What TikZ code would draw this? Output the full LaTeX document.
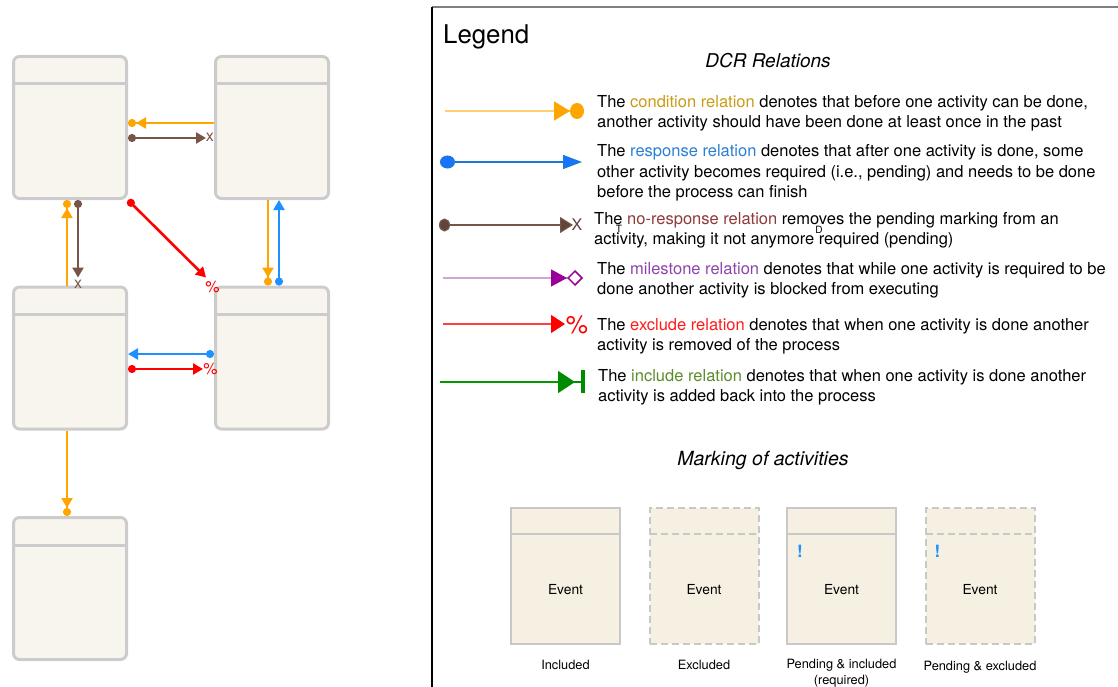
\documentclass[tikz,border=0pt]{standalone}
\usepackage{fontspec}
\setmainfont{TeX Gyre Heros}
\usetikzlibrary{arrows.meta,calc,positioning}

\definecolor{actfill}{HTML}{F7F5EE}
\definecolor{actgray}{HTML}{CCCCCC}
\definecolor{markfill}{HTML}{F6F0E3}
\definecolor{markgray}{HTML}{C8C8C8}
\definecolor{dcrorange}{HTML}{FFA500}
\definecolor{dcrbrown}{HTML}{795548}
\definecolor{dcrblue}{HTML}{1E90FF}
\definecolor{dcrred}{HTML}{FF0000}
\definecolor{condtext}{HTML}{CC9A16}
\definecolor{resptext}{HTML}{2A7FD4}
\definecolor{noresptext}{HTML}{8E3A3A}
\definecolor{miletext}{HTML}{8E44AD}
\definecolor{excltext}{HTML}{FF1A1A}
\definecolor{incltext}{HTML}{5B8C2A}

\tikzset{
  activity/.style={draw=actgray, fill=actfill, line width=3pt, rounded corners=6pt,
    minimum width=113pt, minimum height=142pt, inner sep=0pt},
  marking/.style={draw=markgray, fill=markfill, line width=2pt,
    minimum width=109pt, minimum height=136pt, inner sep=0pt},
  excluded/.style={dash pattern=on 7pt off 4pt},
  rel/.style={line width=2.6pt},
  cond/.style={rel, draw=dcrorange, -{Triangle[length=10pt,width=11pt] Circle[length=8pt]}},
  resp/.style={rel, draw=dcrblue, {Circle[length=8pt]}-{Triangle[length=10pt,width=11pt]}},
  noresp/.style={rel, draw=dcrbrown, {Circle[length=8pt]}-{Triangle[length=10pt,width=11pt]}},
  excl/.style={rel, draw=dcrred, {Circle[length=8pt]}-{Triangle[length=10pt,width=11pt]}},
  xlab/.style={text=dcrbrown, inner sep=0pt, font=\fontsize{16}{16}\selectfont},
  pctlab/.style={text=dcrred, inner sep=0pt, font=\fontsize{16}{16}\selectfont},
  lgtext/.style={anchor=base west, align=left, inner sep=0pt, font=\fontsize{16.5}{20}\selectfont},
  smalltext/.style={inner sep=0pt, font=\fontsize{12.8}{16}\selectfont},
}

\begin{document}
\begin{tikzpicture}[x=1pt, y=-1pt]

    \useasboundingbox (0,0) rectangle (1118,687);

    % --- 1. Activities ---
    \foreach \name/\cx/\cy in {A/70/127.5, B/272/127.5, C/70/358, D/272/358, E/70/588.5} {
        \node[activity] (\name) at (\cx,\cy) {};
        \draw[actgray, line width=3pt] ($(\name.north west)+(1.5,29)$) -- ($(\name.north east)+(-1.5,29)$);
    }

    % --- 2. Relations between activities ---
    % conditions
    \draw[cond] ($(B.west)+(0,-4.5)$) -- ($(A.east)+(0,-4.5)$);
    \draw[cond] ($(C.north)+(-3,0)$) -- ($(A.south)+(-3,0)$);
    \draw[cond] ($(B.south)+(-4,0)$) -- ($(D.north)+(-4,0)$);
    \draw[cond] ($(C.south)+(-3,0)$) -- ($(E.north)+(-3,0)$);
    % responses
    \draw[resp] ($(D.north)+(7,0)$) -- ($(B.south)+(7,0)$);
    \draw[resp] ($(D.west)+(0,-4)$) -- ($(C.east)+(0,-4)$);
    % no-responses
    \draw[noresp] ($(A.east)+(0,10.5)$) -- ($(B.west)+(-8,10.5)$)
        node[xlab, anchor=west, xshift=-1.5pt, yshift=1pt] {x};
    \draw[noresp] ($(A.south)+(8,0)$) -- ($(C.north)+(8,-8)$)
        node[xlab, anchor=north, yshift=-1pt] {x};
    % excludes
    \draw[excl] (A.south east) -- ($(D.north west)+(-8,-8)$)
        node[pctlab, anchor=north west, xshift=-2pt, yshift=-2pt] {\%};
    \draw[excl] ($(C.east)+(0,11)$) -- ($(D.west)+(-11,11)$)
        node[pctlab, anchor=west, xshift=-1pt] {\%};

    % --- 3. Legend frame ---
    \draw[gray, line width=1.8pt] (432,7) -- (1118,7);
    \draw[black, line width=1.2pt] (432,7) -- (432,687);

    \node[anchor=base west, inner sep=0pt, font=\fontsize{25.8}{26}\selectfont] (legend) at (443,44) {Legend};
    \node[anchor=base, inner sep=0pt, font=\fontsize{19}{19}\selectfont\itshape] (dcrtitle) at (768,68) {DCR Relations};

    % --- 4. Legend samples ---
    \draw[draw=dcrorange!55, line width=1.5pt,
          -{Triangle[length=16pt,width=19pt,fill=dcrorange,color=dcrorange] Circle[length=14pt,width=16pt,fill=dcrorange,color=dcrorange]}]
        (445,111) -- (584,111);
    \draw[draw=dcrblue!85!black, line width=1.2pt,
          {Circle[length=15pt,width=13pt,fill=dcrblue!80!blue]}-{Triangle[length=19pt,width=14pt,fill=dcrblue!80!blue]}]
        (440,162) -- (582,162);
    \draw[draw=dcrbrown, line width=1.2pt,
          {Circle[length=11pt,width=13pt,fill=dcrbrown!80!black]}-{Triangle[length=13pt,width=16pt,fill=dcrbrown!80!black]}]
        (439,225) -- (573,225);
    \node[text=dcrbrown!80!black, inner sep=0pt, font=\fontsize{16}{16}\selectfont] at (577,225) {X};
    \draw[draw=violet!35, line width=1.5pt,
          -{Triangle[length=16pt,width=17pt,fill=violet!80!magenta,color=violet!80!magenta] Diamond[open,length=16pt,width=16pt,color=violet!80!magenta]}]
        (443,278) -- (583,278);
    \draw[draw=dcrred!75, line width=1.2pt,
          -{Triangle[length=14pt,width=18pt,fill=dcrred,color=dcrred]}]
        (443,324) -- (565,324);
    \node[text=dcrred, inner sep=0pt, font=\fontsize{25}{25}\selectfont] at (577,325) {\%};
    \draw[draw=green!60!black, line width=1.5pt,
          -{Triangle[length=17pt,width=22pt,fill=green!55!black,color=green!55!black]}]
        (440,382) -- (575,382);
    \draw[draw=green!55!black, line width=1.5pt] (573,382) -- (583,382);
    \draw[draw=green!55!black, line width=4pt] (583,370) -- (583,393);

    % --- 5. Legend texts (anchored at the last line) ---
    \node[lgtext] (tcond) at (597,128)
        {The \textcolor{condtext}{condition relation} denotes that before one activity can be done,\\
         another activity should have been done at least once in the past};
    \node[lgtext] (tresp) at (597,197)
        {The \textcolor{resptext}{response relation} denotes that after one activity is done, some\\
         other activity becomes required (i.e., pending) and needs to be done\\
         before the process can finish};
    \node[lgtext] (tnoresp) at (594,244)
        {The \textcolor{noresptext}{no-response relation} removes the pending marking from an\\
         activity, making it not anymore required (pending)};
    \node[inner sep=0pt, anchor=base, font=\fontsize{10}{10}\selectfont] at (619,232) {T};
    \node[inner sep=0pt, anchor=base, font=\fontsize{10}{10}\selectfont] at (819,233) {D};
    \node[lgtext] (tmile) at (597,294)
        {The \textcolor{miletext}{milestone relation} denotes that while one activity is required to be\\
         done another activity is blocked from executing};
    \node[lgtext] (texcl) at (597,350)
        {The \textcolor{excltext}{exclude relation} denotes that when one activity is done another\\
         activity is removed of the process};
    \node[lgtext] (tincl) at (598,401)
        {The \textcolor{incltext}{include relation} denotes that when one activity is done another\\
         activity is added back into the process};

    % --- 6. Marking of activities ---
    \node[anchor=base, inner sep=0pt, font=\fontsize{19.5}{20}\selectfont\itshape] (marktitle) at (763,465) {Marking of activities};

    \node[marking] (mInc) at (565.5,576) {};
    \node[marking, excluded] (mExc) at (704,576) {};
    \node[marking] (mPinc) at (841.5,576) {};
    \node[marking, excluded] (mPexc) at (980,576) {};
    \draw[markgray, line width=2pt] ($(mInc.north west)+(1,27)$) -- ($(mInc.north east)+(-1,27)$);
    \draw[markgray, line width=2pt, excluded] ($(mExc.north west)+(1,27)$) -- ($(mExc.north east)+(-1,27)$);
    \draw[markgray, line width=2pt] ($(mPinc.north west)+(1,27)$) -- ($(mPinc.north east)+(-1,27)$);
    \draw[markgray, line width=2pt, excluded] ($(mPexc.north west)+(1,27)$) -- ($(mPexc.north east)+(-1,27)$);

    \foreach \m in {mInc, mExc, mPinc, mPexc}
        \node[inner sep=0pt, font=\fontsize{13.8}{14}\selectfont] at ($(\m.center)+(0,14)$) {Event};
    \node[inner sep=0pt, text=dcrblue, font=\fontsize{17}{17}\selectfont\bfseries] at ($(mPinc.north west)+(14,44)$) {!};
    \node[inner sep=0pt, text=dcrblue, font=\fontsize{17}{17}\selectfont\bfseries] at ($(mPexc.north west)+(13,44)$) {!};

    \node[smalltext, below=15pt of mInc] {Included};
    \node[smalltext, below=15pt of mExc] {Excluded};
    \node[smalltext, below=14pt of mPinc, align=center] {Pending \& included\\(required)};
    \node[smalltext, below=16pt of mPexc] {Pending \& excluded};

\end{tikzpicture}
\end{document}
